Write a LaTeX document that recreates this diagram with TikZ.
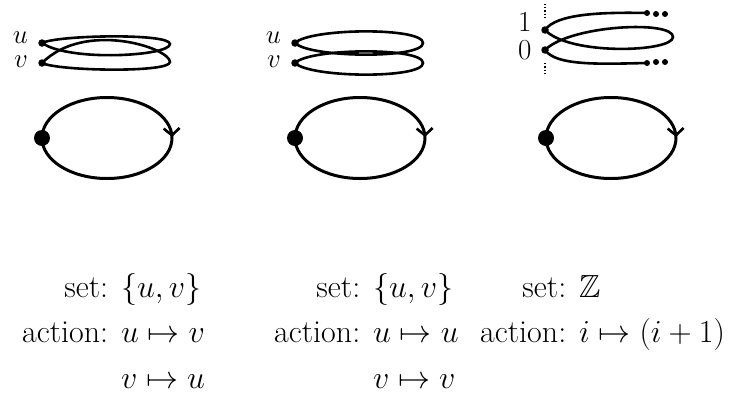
\documentclass[tikz,border=0pt]{standalone}
\usepackage{fix-cm}
\usepackage{amsmath,amssymb}
\DeclareFontFamily{U}{msb}{}
\DeclareFontShape{U}{msb}{m}{n}{<-> msbm10}{}
\usetikzlibrary{arrows.meta,decorations.markings,positioning}
\newcommand{\bead}[2]{\node[bead] (#1) at (#2) {}}
\newcommand{\base}[2]{\node[bigbead] (#1) at (#2) {};
	\draw[loop] (#1.center) arc[start angle=180,end angle=540,x radius=65,y radius=40.5]}

\begin{document}
\begin{tikzpicture}[x=1pt,y=-1pt,
	every node/.style={font=\fontsize{27}{30}\selectfont,inner sep=0pt},
	caption/.style={anchor=base west,font=\fontsize{32}{45.5}\selectfont},
	bead/.style={circle,fill,inner sep=0pt,minimum size=7.5pt},
	bigbead/.style={circle,fill,inner sep=0pt,minimum size=16pt},
	dots/.style={circle,fill,inner sep=0pt,minimum size=6pt},
	strand/.style={line width=2.6pt},
	loop/.style={line width=3pt,postaction={decorate},
		decoration={markings,mark=at position 0.497 with {\arrow{Straight Barb[length=7pt,width=16pt,line width=2.6pt]}}}}]
	\useasboundingbox (0,0) rectangle (735,397);
		% base circles
		\base{b1}{42,138};
		\base{b2}{295,138};
		\base{b3}{546,138};
		% twisted double cover
		\bead{u1}{42,43};
		\bead{v1}{42,63};
			\draw[strand] (u1.center) .. controls (58,35) and (170,33) .. (170,44) .. controls (170,56) and (70,62) .. (u1.center);
			\draw[strand] (v1.center) .. controls (58,71) and (170,73) .. (170,62) .. controls (170,48) and (85,20) .. (v1.center);
		\node[left=10pt of u1,yshift=5pt] (lu1) {$u$};
		\node[left=10pt of v1,yshift=1pt] (lv1) {$v$};
		% trivial double cover
		\bead{u2}{295,43};
		\bead{v2}{295,63};
			\draw[strand] (u2.center) .. controls (310,28) and (423,27) .. (423,43) .. controls (423,59) and (310,58) .. (u2.center);
			\draw[strand] (v2.center) .. controls (310,48) and (423,47) .. (423,63) .. controls (423,79) and (310,78) .. (v2.center);
		\node[left=10pt of u2,yshift=5pt] (lu2) {$u$};
		\node[left=10pt of v2,yshift=1pt] (lv2) {$v$};
		% the integers
		\bead{z1}{545,30};
		\bead{z0}{545,50};
		\node[dots] (t1) at (647,13) {};
		\node[dots] (t2) at (656,14) {};
		\node[dots] (t3) at (665,14) {};
		\node[dots] (d1) at (647,63) {};
		\node[dots] (d2) at (656,62) {};
		\node[dots] (d3) at (665,62) {};
			\draw[strand] (z1.center) .. controls (556,14) and (600,12) .. (t1.center);
			\draw[strand] (z0.center) .. controls (556,66) and (600,64) .. (d1.center);
			\draw[strand] (z0.center) .. controls (570,25) and (673,20) .. (673,37) .. controls (673,52) and (570,56) .. (z1.center);
		\coordinate (up) at (545,4);
		\coordinate (dn) at (545,74);
			\draw[dotted,line width=1.2pt,shorten >=9pt] (up) -- (z1);
			\draw[dotted,line width=1.2pt,shorten >=9pt] (dn) -- (z0);
		\node[left=9.5pt of z1,yshift=8pt,font=\fontsize{29}{30}\selectfont] (l1) {1};
		\node[left=9.5pt of z0,font=\fontsize{29}{30}\selectfont] (l0) {0};
		% captions
		\node[caption] (cap1) at (22,297) {\begin{tabular}[t]{@{}r@{ }l@{}}
			set: & $\{u,v\}$\\ action: & $u\mapsto v$\\ & $v\mapsto u$\end{tabular}};
		\node[caption] (cap2) at (274,297) {\begin{tabular}[t]{@{}r@{ }l@{}}
			set: & $\{u,v\}$\\ action: & $u\mapsto u$\\ & $v\mapsto v$\end{tabular}};
		\node[caption] (cap3) at (480,297) {\begin{tabular}[t]{@{}r@{ }l@{}}
			set: & $\mathbb{Z}$\\ action: & $i\mapsto(i+1)$\end{tabular}};
\end{tikzpicture}
\end{document}
